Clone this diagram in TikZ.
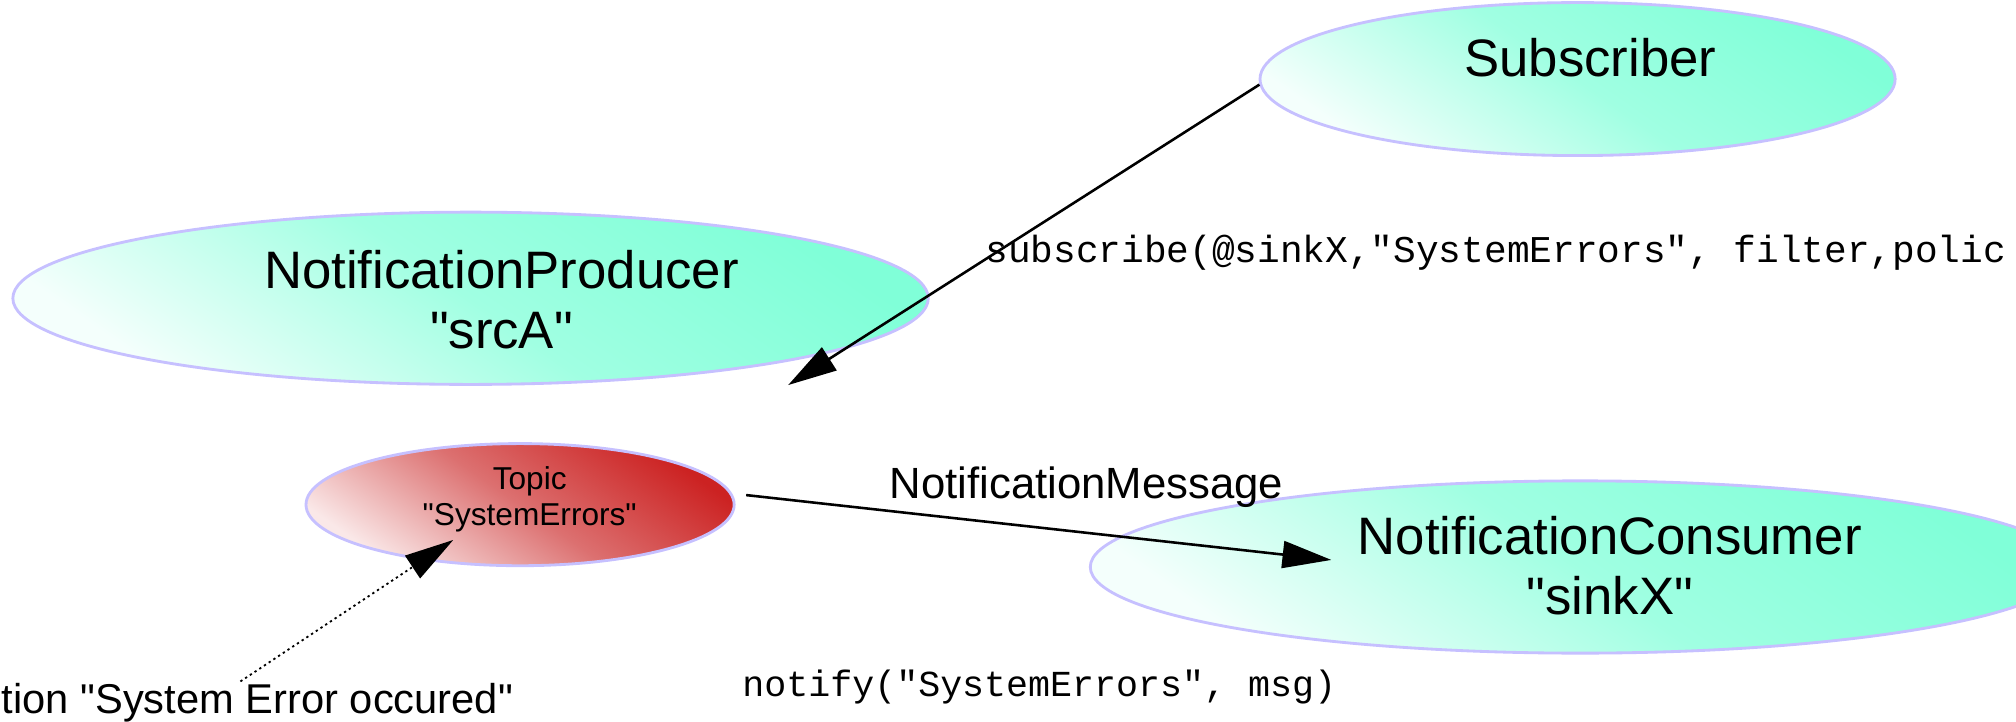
\documentclass[tikz,border=0pt]{standalone}
\usepackage{fontspec}
\setmainfont{Liberation Sans}[Ligatures=TeXOff]
\newfontfamily\codefont{Liberation Mono}
\usetikzlibrary{arrows.meta,shapes.geometric}

\definecolor{mint}{RGB}{128,255,216}
\definecolor{mintmid}{RGB}{160,255,226}
\definecolor{mintlight}{RGB}{244,255,252}
\definecolor{rim}{RGB}{198,192,255}
\definecolor{topicdark}{RGB}{204,34,34}
\definecolor{topicmid}{RGB}{220,112,112}
\definecolor{topiclight}{RGB}{250,232,232}

\begin{document}
\begin{tikzpicture}[x=0.5pt,y=-0.5pt,
  bubble/.style={ellipse, draw=rim, line width=1.1pt, inner sep=0pt,
    left color=mintlight, right color=mint, middle color=mintmid, shading angle=145},
  topicbubble/.style={ellipse, draw=rim, line width=1.1pt, inner sep=0pt,
    left color=topiclight, right color=topicdark, middle color=topicmid, shading angle=145},
  bigtext/.style={align=center, inner sep=0pt, font=\fontsize{20.5}{23.5}\selectfont},
  smalltext/.style={align=center, inner sep=0pt, font=\fontsize{12.3}{14}\selectfont},
  midtext/.style={inner sep=0pt, font=\fontsize{17}{20}\selectfont},
  code/.style={inner sep=0pt},
  link/.style={line width=1pt, -{Triangle[length=19pt, width=10.5pt]}},
  eventlink/.style={line width=0.7pt, dash pattern=on 0.9pt off 1.3pt,
    -{Triangle[length=19pt, width=10.5pt]}}
]
\useasboundingbox (0,0) rectangle (1568,561);
\fill[white] (0,0) rectangle (1568,561);
\clip (0,0) rectangle (1568,561);

% participants
\node[bubble, minimum width=247pt, minimum height=59.5pt] (sub) at (1227,61.5) {};
\node[bubble, minimum width=356pt, minimum height=67pt] (prod) at (366,232) {};
\node[topicbubble, minimum width=166.5pt, minimum height=47.5pt] (topic) at (404.5,392.5) {};
\node[bubble, minimum width=381pt, minimum height=67pt] (cons) at (1229,441) {};

% free ends of the connectors
\coordinate (subTip) at (613,299.5);
\coordinate (msgTip) at (1035.5,435.5);
\coordinate (evtFrom) at (187,530);
\coordinate (evtTip) at (352.5,420);

% connectors
\draw[link] (sub.181) -- (subTip);
\draw[link, shorten <=5.5pt] (topic.3.5) -- (msgTip);
\draw[eventlink] (evtFrom) -- (evtTip);

% names inside the bubbles
\node[bigtext] (sublabel) at (1237,45) {Subscriber};
\node[bigtext] (prodlabel) at (390,233) {NotificationProducer\\"srcA"};
\node[smalltext] (topiclabel) at (412,388) {Topic\\"SystemErrors"};
\node[bigtext] (conslabel) at (1252,440) {NotificationConsumer\\"sinkX"};

% labels and calls
\node[midtext, anchor=base] (msglabel) at (845,388) {NotificationMessage};
\node[inner sep=0pt, font=\fontsize{16.2}{19}\selectfont, anchor=base west] (evt) at (1,555) {tion "System Error occured"};
\node[code, font={\codefont\fontsize{14.7}{17}\selectfont}, anchor=base west] (subcall) at (766,204) {subscribe(@sinkX,"SystemErrors", filter,polic};
\node[code, font={\codefont\fontsize{14.25}{17}\selectfont}, anchor=base west] (notifycall) at (577,542) {notify("SystemErrors", msg)};
\end{tikzpicture}
\end{document}
